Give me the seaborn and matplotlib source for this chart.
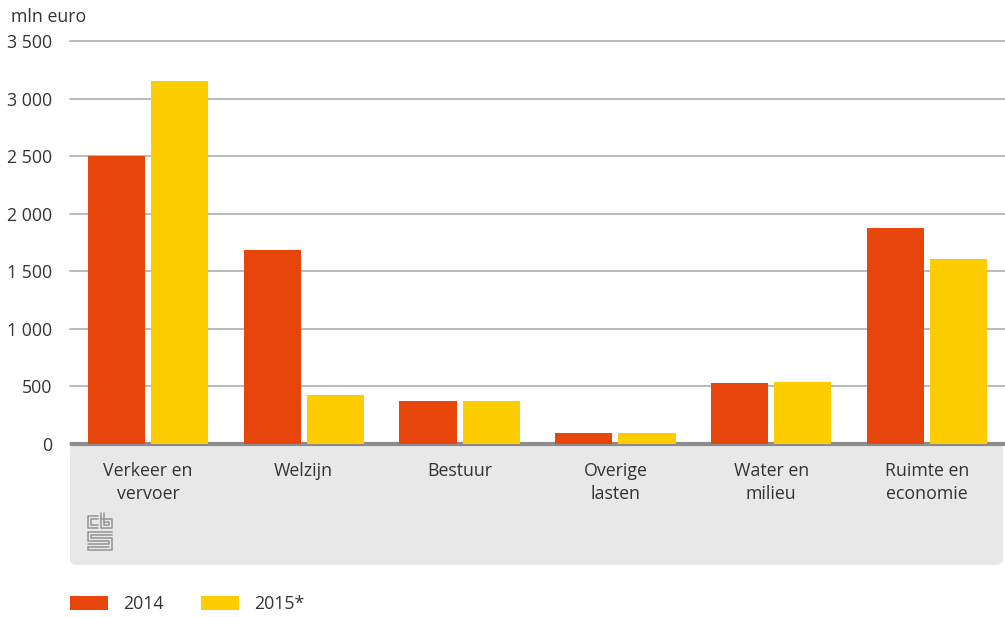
import matplotlib
matplotlib.use("Agg")
import matplotlib.pyplot as plt
import seaborn as sns
import pandas as pd
from matplotlib.patches import FancyBboxPatch, Patch
from matplotlib.lines import Line2D

categories = ["Verkeer en\nvervoer", "Welzijn", "Bestuur", "Overige\nlasten", "Water en\nmilieu", "Ruimte en\neconomie"]
values_2014 = [2500, 1685, 375, 95, 530, 1875]
values_2015 = [3155, 426, 373, 95, 537, 1607]
series = ["2014", "2015*"]
colors = ["#e8450a", "#ffcc00"]
yticks = [0, 500, 1000, 1500, 2000, 2500, 3000, 3500]
ytick_labels = ["0", "500", "1 000", "1 500", "2 000", "2 500", "3 000", "3 500"]

df = pd.DataFrame({
    "cat": categories * 2,
    "value": values_2014 + values_2015,
    "year": [series[0]] * len(categories) + [series[1]] * len(categories),
})

sns.set_theme(style="white")
plt.rcParams["font.family"] = ["Open Sans", "DejaVu Sans"]
txt = "#333333"
fs = 12.8

W, H = 1005, 617
fig = plt.figure(figsize=(W / 100, H / 100), dpi=100)

# grey category band
band = FancyBboxPatch((70 / W, 1 - 565 / H), (W - 70 - 2) / W, (565 - 444) / H,
                      boxstyle="round,pad=0,rounding_size=0.008",
                      transform=fig.transFigure, facecolor="#e8e8e8", edgecolor="none", zorder=-5)
fig.patches.append(band)

ax = fig.add_axes([70 / W, 1 - 444 / H, (W - 70) / W, (444 - 41) / H])
ax.set_zorder(2)
ax.patch.set_alpha(0)
sns.barplot(data=df, x="cat", y="value", hue="year", palette=colors, ax=ax,
            width=0.81, gap=0.095, saturation=1, legend=False, zorder=3,
            linewidth=0, edgecolor="none")

ax.set_ylim(0, 3500)
ax.set_xlim(-0.5, len(categories) - 0.5)
ax.set_yticks(yticks)
ax.set_yticklabels(ytick_labels, fontsize=fs, color=txt)
for lab in ax.get_yticklabels():
    lab.set_horizontalalignment("right")
ax.tick_params(axis="y", length=0, pad=13)
ax.tick_params(axis="x", length=0, pad=13, labelsize=fs, labelcolor=txt)
ax.set_xlabel("")
ax.set_ylabel("")
ax.yaxis.grid(True, color="#b4b4b4", linewidth=1.3)
for gl in ax.get_ygridlines():
    gl.set_clip_on(False)
ax.set_axisbelow(True)
for s in ["top", "right", "left"]:
    ax.spines[s].set_visible(False)
ax.spines["bottom"].set_color("#8c8c8c")
ax.spines["bottom"].set_linewidth(3)
ax.spines["bottom"].set_capstyle("butt")
for lab in ax.get_xticklabels():
    lab.set_linespacing(1.35)

fig.text(11 / W, 1 - 17 / H, "mln euro", fontsize=fs, color=txt, va="center", ha="left")

# simple CBS-like logo
lc = "#9a9a9a"
def pl(xs, ys):
    fig.add_artist(Line2D([x / W for x in xs], [1 - y / H for y in ys], color=lc, lw=1.2,
                          transform=fig.transFigure))
# "c"
pl([98, 88, 88, 98], [516, 516, 528, 528])
pl([98, 91, 91, 98], [519, 519, 525, 525])
# "b"
pl([101, 101, 112, 112, 101], [513, 528, 528, 519, 519])
pl([104, 104, 109, 109, 104], [513, 525, 525, 522, 522])
# "s"
pl([112, 88, 88, 109, 109, 88], [532, 532, 541, 541, 544, 544])
pl([112, 91, 91, 112, 112, 88, 88], [535, 535, 538, 538, 550, 550, 547])
pl([88, 109], [547, 547])

handles = [Patch(facecolor=c, edgecolor="none", label=s) for c, s in zip(colors, series)]
fig.legend(handles=handles, loc="center left", bbox_to_anchor=(54 / W, 1 - 604 / H),
           ncol=2, frameon=False, fontsize=fs, handlelength=2.15, handleheight=0.85,
           handletextpad=0.85, columnspacing=2.1, labelcolor=txt)

fig.savefig("out.png", dpi=100)
